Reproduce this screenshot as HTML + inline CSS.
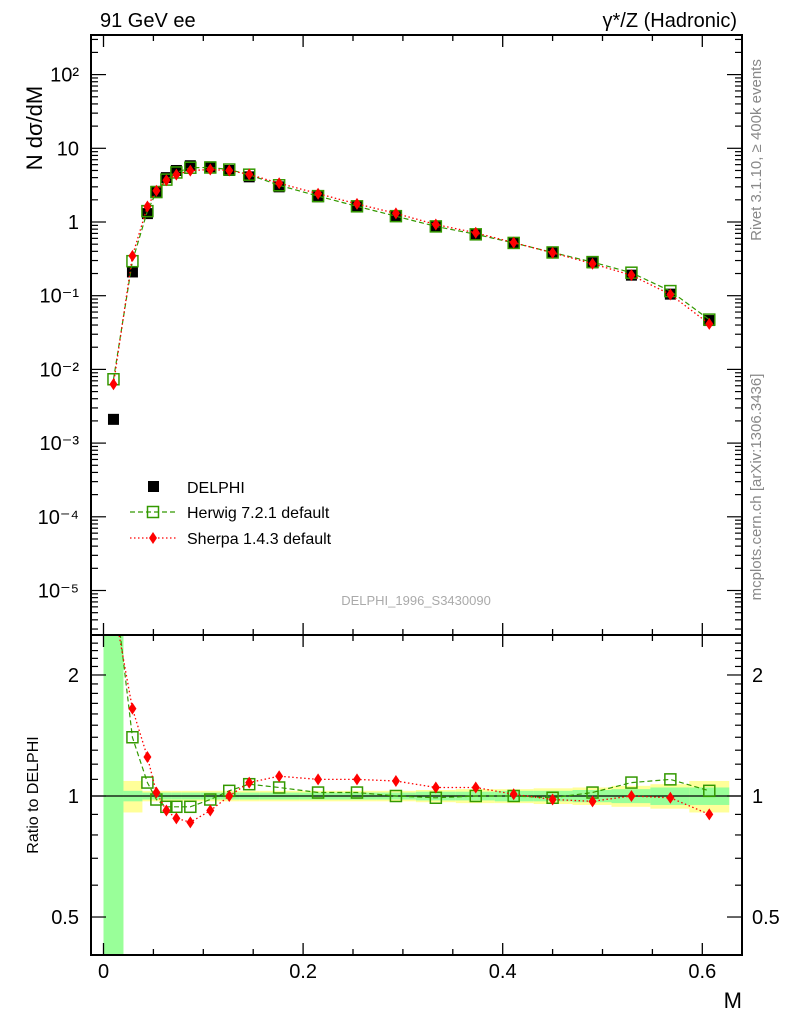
<!DOCTYPE html>
<html><head><meta charset="utf-8"><style>
html,body{margin:0;background:#fff;width:786px;height:1024px;overflow:hidden}
svg{display:block}
svg text{font-family:"Liberation Sans",sans-serif}
</style></head><body>
<svg id="c" width="786" height="1024" style="position:absolute;left:0;top:0" xmlns="http://www.w3.org/2000/svg"></svg>
<script>
const xs=[0.01,0.029,0.044,0.053,0.063,0.073,0.087,0.107,0.126,0.146,0.176,0.215,0.254,0.293,0.333,0.373,0.411,0.45,0.49,0.529,0.568,0.607];
const binLo=[0,0.02,0.039,0.049,0.058,0.068,0.078,0.097,0.117,0.136,0.156,0.196,0.235,0.274,0.313,0.353,0.392,0.431,0.47,0.509,0.548,0.587];
const binHi=[0.02,0.039,0.049,0.058,0.068,0.078,0.097,0.117,0.136,0.156,0.196,0.235,0.274,0.313,0.353,0.392,0.431,0.47,0.509,0.548,0.587,0.627];
const delphi=[0.0021,0.21,1.3,2.6,4.0,5.0,5.8,5.6,5.0,4.1,3.0,2.2,1.6,1.2,0.88,0.68,0.52,0.39,0.28,0.19,0.105,0.046];
const herwigRatio=[3.5,1.4,1.08,0.98,0.94,0.94,0.94,0.98,1.03,1.07,1.05,1.02,1.02,1.0,0.99,1.0,1.0,0.99,1.02,1.08,1.1,1.03];
const sherpaRatio=[3.0,1.65,1.25,1.02,0.92,0.88,0.86,0.92,1.0,1.08,1.12,1.1,1.1,1.09,1.05,1.05,1.01,0.98,0.97,1.0,0.99,0.9];
const statErr=[3.0,0.03,0.02,0.02,0.02,0.02,0.02,0.02,0.02,0.02,0.02,0.02,0.02,0.02,0.025,0.025,0.03,0.03,0.035,0.04,0.05,0.05];
const totErr=[3.0,0.09,0.03,0.03,0.03,0.03,0.03,0.03,0.03,0.03,0.03,0.03,0.03,0.03,0.035,0.04,0.04,0.045,0.05,0.06,0.07,0.09];
const xTicks=[0,0.2,0.4,0.6];
const mainTicks=[-5,-4,-3,-2,-1,0,1,2];
const mainLabels=["10\u207B\u2075","10\u207B\u2074","10\u207B\u00B3","10\u207B\u00B2","10\u207B\u00B9","1","10","10\u00B2"];
const ratioTicks=[0.5,1,2];

const L=91,R=742,T=35,MB=635,RB=955;
const X=m=>103.5+998*m;
const YM=v=>222-73.7*Math.log10(v);
const YR=r=>796-402*Math.log10(r);
const svg=document.getElementById('c');
const NS='http://www.w3.org/2000/svg';
function el(t,a,p){const e=document.createElementNS(NS,t);for(const k in a)e.setAttribute(k,a[k]);(p||svg).appendChild(e);return e;}
function txt(s,a){const e=el('text',a);e.textContent=s;return e;}

const defs=el('defs',{});
const c1=el('clipPath',{id:'cm'},defs);el('rect',{x:L,y:T,width:R-L,height:MB-T},c1);
const c2=el('clipPath',{id:'cr'},defs);el('rect',{x:L,y:MB,width:R-L,height:RB-MB},c2);

const gR=el('g',{'clip-path':'url(#cr)'});


for(let i=0;i<xs.length;i++){
  const a=el('rect',{x:X(binLo[i]),width:X(binHi[i])-X(binLo[i]),y:YR(1+totErr[i]),height:YR(Math.max(1-totErr[i],0.01))-YR(1+totErr[i]),fill:'#ffff99'},gR);
  
  
}
for(let i=0;i<xs.length;i++){
  const a=el('rect',{x:X(binLo[i]),width:X(binHi[i])-X(binLo[i]),y:YR(1+statErr[i]),height:YR(Math.max(1-statErr[i],0.01))-YR(1+statErr[i]),fill:'#99ff99'},gR);
  
  
}
el('line',{x1:L,x2:R,y1:YR(1),y2:YR(1),stroke:'#000','stroke-width':1.2},gR);

const herwig=delphi.map((d,i)=>d*herwigRatio[i]);
const sherpa=delphi.map((d,i)=>d*sherpaRatio[i]);

function series(g,vals,Y,kind){
  const pts=xs.map((x,i)=>X(x).toFixed(1)+','+Y(vals[i]).toFixed(1)).join(' ');
  if(kind==='h'){el('polyline',{points:pts,fill:'none',stroke:'#339900','stroke-width':1.2,'stroke-dasharray':'5,3'},g);}
  else {el('polyline',{points:pts,fill:'none',stroke:'#ff0000','stroke-width':1.3,'stroke-dasharray':'1.5,2.5'},g);}
  xs.forEach((x,i)=>{
    const cx=X(x),cy=Y(vals[i]);
    if(kind==='h'){const r=el('rect',{x:cx-5.5,y:cy-5.5,width:11,height:11,fill:'none',stroke:'#339900','stroke-width':1.5},g);
      }
    else {const p=el('polygon',{points:`${cx},${cy-6} ${cx+4},${cy} ${cx},${cy+6} ${cx-4},${cy}`,fill:'#ff0000'},g);
      }
  });
}
series(gR,herwigRatio,YR,'h');
series(gR,sherpaRatio,YR,'s');

const gM=el('g',{'clip-path':'url(#cm)'});


xs.forEach((x,i)=>{const r=el('rect',{x:X(x)-5.5,y:YM(delphi[i])-5.5,width:11,height:11,fill:'#000'},gM);
  });
series(gM,herwig,YM,'h');
series(gM,sherpa,YM,'s');

el('rect',{x:L,y:T,width:R-L,height:MB-T,fill:'none',stroke:'#000','stroke-width':2});
el('rect',{x:L,y:MB,width:R-L,height:RB-MB,fill:'none',stroke:'#000','stroke-width':2});

for(let v=0;v<=0.64;v+=0.05){
  const major=Math.abs(v*10-Math.round(v*10))<1e-6&&Math.round(v*10)%2===0;
  const len=major?12:6;
  [[T,1],[MB,-1],[MB,1],[RB,-1]].forEach(([y,d])=>el('line',{x1:X(v),x2:X(v),y1:y,y2:y+d*len,stroke:'#000','stroke-width':1.3}));
}
xTicks.forEach(v=>{const t=txt(v===0?'0':v.toFixed(1),{x:X(v),y:978,'font-size':20,'text-anchor':'middle'});
  });

for(let d=-6;d<=2;d++){
  for(let k=1;k<10;k++){const y=YM(k*Math.pow(10,d));if(y<T||y>MB)continue;
    const len=k===1?15:7;
    el('line',{x1:L,x2:L+len,y1:y,y2:y,stroke:'#000','stroke-width':1.2});
    el('line',{x1:R,x2:R-len,y1:y,y2:y,stroke:'#000','stroke-width':1.2});}
}
mainTicks.forEach((d,i)=>{const t=txt(mainLabels[i],{x:79,y:YM(Math.pow(10,d))+7,'font-size':20,'text-anchor':'end'});
  });

for(let r=0.4;r<=2.5;r+=0.1){const y=YR(r);if(y<MB||y>RB)continue;
  const maj=[0.5,1,2].some(q=>Math.abs(q-r)<1e-6);const len=maj?15:7;
  el('line',{x1:L,x2:L+len,y1:y,y2:y,stroke:'#000','stroke-width':1.2});
  el('line',{x1:R,x2:R-len,y1:y,y2:y,stroke:'#000','stroke-width':1.2});}
ratioTicks.forEach(r=>{
  const s=r===0.5?'0.5':String(r);
  txt(s,{x:79,y:YR(r)+7,'font-size':20,'text-anchor':'end'});
  txt(s,{x:752,y:YR(r)+7,'font-size':20});
});
</script>
<svg width="786" height="1024" style="position:absolute;left:0;top:0" xmlns="http://www.w3.org/2000/svg">
<text x="100" y="27" font-size="20">91 GeV ee</text>
<text x="737" y="27" font-size="20" text-anchor="end">γ*/Z (Hadronic)</text>
<text transform="translate(42,128) rotate(-90)" font-size="22" text-anchor="middle">N dσ/dM</text>
<text transform="translate(38,795) rotate(-90)" font-size="16" text-anchor="middle">Ratio to DELPHI</text>
<text x="742" y="1008" font-size="22" text-anchor="end">M</text>
<text transform="translate(761,150) rotate(-90)" font-size="15" fill="#888" text-anchor="middle">Rivet 3.1.10, ≥ 400k events</text>
<text transform="translate(761,487) rotate(-90)" font-size="15" fill="#888" text-anchor="middle">mcplots.cern.ch [arXiv:1306.3436]</text>
<text x="416" y="605" font-size="13" fill="#aaa" text-anchor="middle">DELPHI_1996_S3430090</text>
<g>
<rect x="148" y="481" width="11" height="11" fill="#000"/>
<text x="187" y="493" font-size="16">DELPHI</text>
<line x1="130" x2="176" y1="512" y2="512" stroke="#339900" stroke-dasharray="5,3" stroke-width="1.2"/>
<rect x="147.5" y="506.5" width="11" height="11" fill="none" stroke="#339900" stroke-width="1.5"/>
<text x="187" y="518" font-size="16">Herwig 7.2.1 default</text>
<line x1="130" x2="176" y1="538" y2="538" stroke="#ff0000" stroke-dasharray="1.5,2.5" stroke-width="1.3"/>
<polygon points="153,532 157,538 153,544 149,538" fill="#ff0000"/>
<text x="187" y="544" font-size="16">Sherpa 1.4.3 default</text>
</g>
</svg>
</body></html>
